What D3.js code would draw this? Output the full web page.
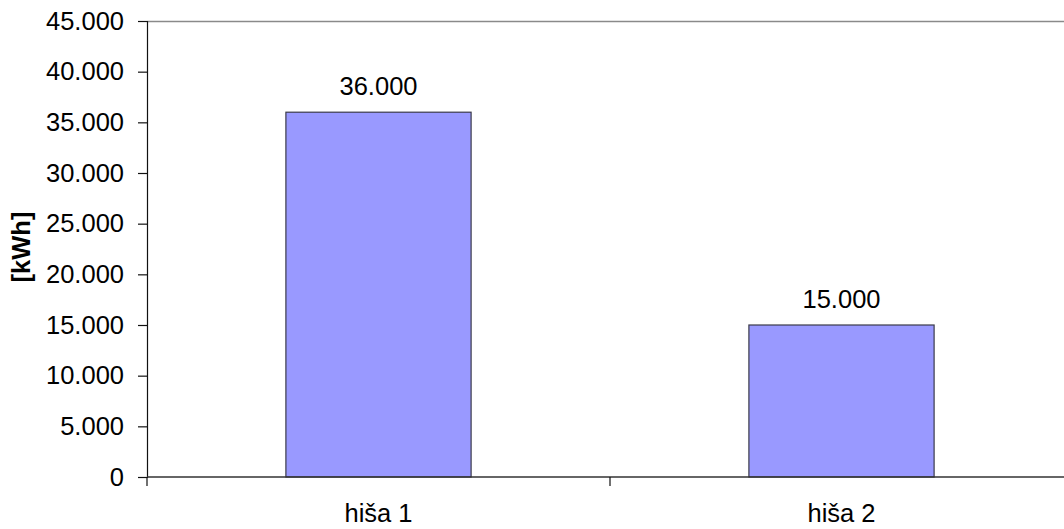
<!DOCTYPE html>
<html>
<head>
<meta charset="utf-8">
<script src="https://cdn.jsdelivr.net/npm/d3@7"></script>
<style>
  html, body { margin: 0; padding: 0; background: #fff; }
  svg { display: block; font-family: "Liberation Sans", Arial, sans-serif; }
</style>
</head>
<body>
<svg id="chart" width="1064" height="529"></svg>
<script>
// Yearly energy use per house
const categories = ["hiša 1", "hiša 2"];
const values = [36000, 15000];
const yTicks = [0, 5000, 10000, 15000, 20000, 25000, 30000, 35000, 40000, 45000];
const yTitle = "[kWh]";

const svg = d3.select("#chart");
const plot = { left: 147, right: 1073, top: 21, bottom: 477 };
const fontSize = 25.5;

// Slovenian number format: dot as thousands separator
const locale = d3.formatLocale({ decimal: ",", thousands: ".", grouping: [3], currency: ["", " €"] });
const fmt = locale.format(",.0f");

const y = d3.scaleLinear().domain([0, 45000]).range([plot.bottom, plot.top]);
const x = d3.scaleBand().domain(categories).range([plot.left, plot.right])
  .paddingInner(0.6).paddingOuter(0.3);

// Top border of the plot area
svg.append("line")
  .attr("x1", plot.left).attr("x2", plot.right)
  .attr("y1", plot.top + 0.5).attr("y2", plot.top + 0.5)
  .attr("stroke", "#8a8a8a").attr("stroke-width", 1.5);

// Bars
svg.append("g").selectAll("rect")
  .data(categories)
  .join("rect")
  .attr("x", (d) => x(d))
  .attr("y", (d, i) => y(values[i]))
  .attr("width", x.bandwidth())
  .attr("height", (d, i) => y(0) - y(values[i]))
  .attr("fill", "#9999ff")
  .attr("stroke", "#3a3a4a")
  .attr("stroke-width", 1.2);

// Value labels above bars
svg.append("g").selectAll("text")
  .data(categories)
  .join("text")
  .attr("x", (d) => x(d) + x.bandwidth() / 2)
  .attr("y", (d, i) => y(values[i]) - 17)
  .attr("text-anchor", "middle")
  .attr("font-size", fontSize)
  .attr("fill", "#000")
  .text((d, i) => fmt(values[i]));

// Y axis
const yAxis = svg.append("g")
  .attr("transform", `translate(${plot.left},0)`)
  .call(d3.axisLeft(y).tickValues(yTicks).tickFormat(fmt).tickSize(9).tickPadding(14));
yAxis.select(".domain").attr("stroke", "#111").attr("stroke-width", 1.2);
yAxis.selectAll(".tick line").attr("stroke", "#111").attr("stroke-width", 1.2);
yAxis.selectAll(".tick text")
  .attr("font-size", fontSize)
  .attr("font-family", "Liberation Sans, Arial, sans-serif")
  .attr("fill", "#000");

// X axis: baseline with ticks at category boundaries
const xb = svg.append("g");
xb.append("line")
  .attr("x1", plot.left).attr("x2", plot.right)
  .attr("y1", y(0)).attr("y2", y(0))
  .attr("stroke", "#333").attr("stroke-width", 1.5);
const bounds = [plot.left].concat(categories.map((d) => x(d) + x.bandwidth() / 2 + x.step() / 2));
xb.selectAll("line.tick")
  .data(bounds)
  .join("line")
  .attr("class", "tick")
  .attr("x1", (d) => d).attr("x2", (d) => d)
  .attr("y1", y(0)).attr("y2", y(0) + 9)
  .attr("stroke", "#111").attr("stroke-width", 1.2);
xb.selectAll("text")
  .data(categories)
  .join("text")
  .attr("x", (d) => x(d) + x.bandwidth() / 2)
  .attr("y", 522)
  .attr("text-anchor", "middle")
  .attr("font-size", fontSize)
  .attr("fill", "#000")
  .text((d) => d);

// Y axis title
svg.append("text")
  .attr("transform", `translate(30,${(plot.top + plot.bottom) / 2 - 2}) rotate(-90)`)
  .attr("text-anchor", "middle")
  .attr("font-size", fontSize)
  .attr("font-weight", "bold")
  .attr("fill", "#000")
  .text(yTitle);
</script>
</body>
</html>
